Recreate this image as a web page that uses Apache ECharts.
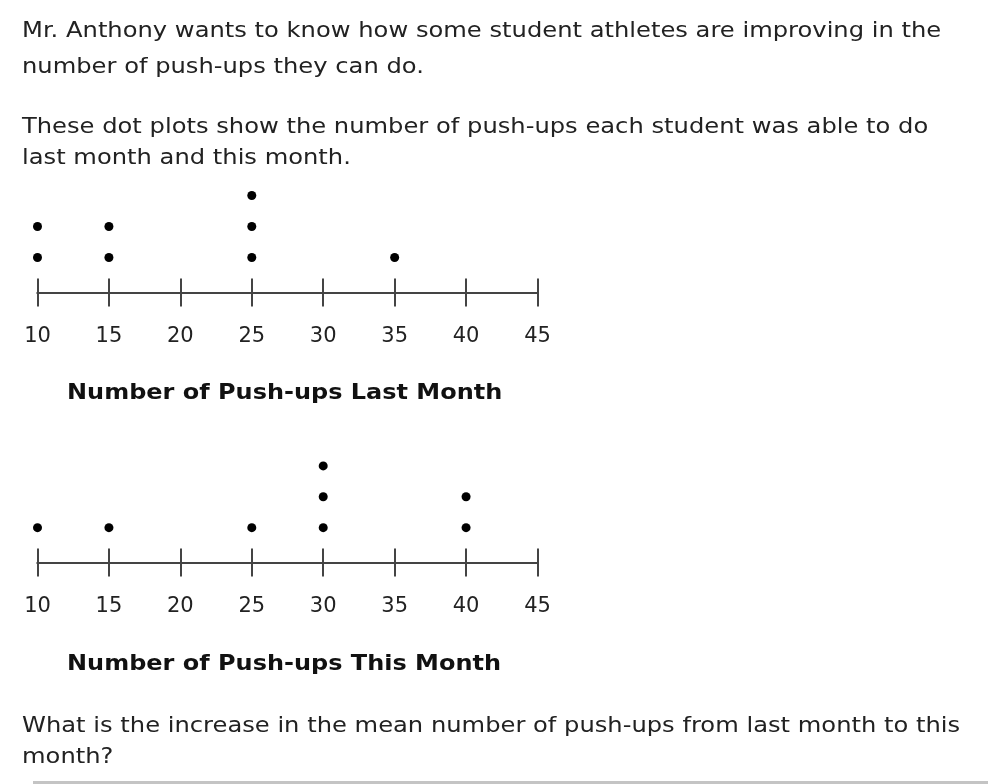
<!DOCTYPE html>
<html>
<head>
<meta charset="utf-8">
<script src="https://cdn.jsdelivr.net/npm/echarts@6/dist/echarts.min.js"></script>
<style>
  html, body { margin: 0; padding: 0; background: #fff; }
  #chart { width: 998px; height: 784px; }
</style>
</head>
<body>
<div id="chart"></div>
<script>
// ---- data ----
const tickValues = [10, 15, 20, 25, 30, 35, 40, 45];
const lastMonth = [10, 10, 15, 15, 25, 25, 25, 35];
const thisMonth = [10, 15, 25, 30, 30, 30, 40, 40];
const titleLast = 'Number of Push-ups Last Month';
const titleThis = 'Number of Push-ups This Month';
const introLines = [
  'Mr. Anthony wants to know how some student athletes are improving in the',
  'number of push-ups they can do.',
  'These dot plots show the number of push-ups each student was able to do',
  'last month and this month.'
];
const questionLines = [
  'What is the increase in the mean number of push-ups from last month to this',
  'month?'
];

// stack each value into dot-plot levels
function stack(values) {
  const counts = {};
  return values.map(v => {
    counts[v] = (counts[v] || 0) + 1;
    return [v, counts[v]];
  });
}

const FONT = 'DejaVu Sans';
const TEXT = '#222';
const AXIS = '#444';

function xAxes(gridIndex) {
  const base = {
    type: 'value', gridIndex, min: tickValues[0], max: tickValues[tickValues.length - 1],
    interval: 5, position: 'bottom', offset: 0, splitLine: { show: false },
    axisLine: { show: true, onZero: false, lineStyle: { color: AXIS, width: 2 } }
  };
  return [
    Object.assign({}, base, {
      axisTick: { show: true, inside: false, length: 14, lineStyle: { color: AXIS, width: 2 } },
      axisLabel: { show: true, margin: 34, fontFamily: FONT, fontSize: 21, color: TEXT }
    }),
    Object.assign({}, base, {
      axisTick: { show: true, inside: true, length: 14, lineStyle: { color: AXIS, width: 2 } },
      axisLabel: { show: false }
    })
  ];
}

const chart = echarts.init(document.getElementById('chart'), null, { renderer: 'canvas' });

const graphics = [];
const textScale = 1.1;
const introTop = [20.5, 56.5, 116.5, 147.5];
introLines.forEach((t, i) => graphics.push({
  type: 'text', x: 22, y: introTop[i], scaleX: textScale,
  style: { text: t, font: '22px "' + FONT + '"', fill: TEXT, verticalAlign: 'top' }
}));
const qTop = [715.5, 746.5];
questionLines.forEach((t, i) => graphics.push({
  type: 'text', x: 22, y: qTop[i], scaleX: textScale,
  style: { text: t, font: '22px "' + FONT + '"', fill: TEXT, verticalAlign: 'top' }
}));
[[titleLast, 382.5], [titleThis, 653.5]].forEach(([t, y]) => graphics.push({
  type: 'text', x: 67, y: y, scaleX: 1.09,
  style: { text: t, font: 'bold 22px "' + FONT + '"', fill: '#111', verticalAlign: 'top' }
}));
graphics.push({
  type: 'rect', shape: { x: 33, y: 781, width: 955, height: 3 },
  style: { fill: '#c4c4c4' }
});

chart.setOption({
  animation: false,
  backgroundColor: '#fff',
  grid: [
    { left: 37.5, right: 460.5, top: 180, bottom: 491.5 },
    { left: 37.5, right: 460.5, top: 450.5, bottom: 221.5 }
  ],
  xAxis: [].concat(xAxes(0), xAxes(1)),
  yAxis: [
    { type: 'value', gridIndex: 0, min: -0.13, max: 3.5, show: false },
    { type: 'value', gridIndex: 1, min: -0.13, max: 3.5, show: false }
  ],
  series: [
    { type: 'scatter', xAxisIndex: 0, yAxisIndex: 0, data: stack(lastMonth),
      symbol: 'circle', symbolSize: 9, itemStyle: { color: '#000', opacity: 1 } },
    { type: 'scatter', xAxisIndex: 2, yAxisIndex: 1, data: stack(thisMonth),
      symbol: 'circle', symbolSize: 9, itemStyle: { color: '#000', opacity: 1 } }
  ],
  graphic: graphics
});
</script>
</body>
</html>
